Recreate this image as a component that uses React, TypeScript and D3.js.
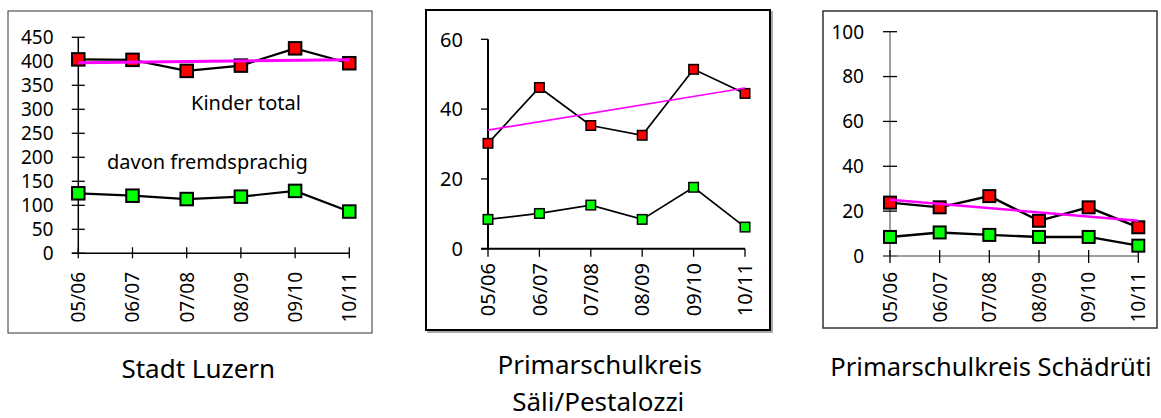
import * as d3 from "d3";

const years = ["05/06", "06/07", "07/08", "08/09", "09/10", "10/11"];

// Stadt Luzern
const luzernTotal = [404, 403, 380, 391, 427, 396];
const luzernFremd = [125, 120, 113, 118, 130, 87];
const luzernTicks = [0, 50, 100, 150, 200, 250, 300, 350, 400, 450];

// Primarschulkreis Säli/Pestalozzi
const saeliTotal = [30.2, 46.2, 35.3, 32.5, 51.4, 44.5];
const saeliFremd = [8.4, 10.1, 12.5, 8.4, 17.6, 6.2];
const saeliTicks = [0, 20, 40, 60];

// Primarschulkreis Schädrüti
const schaedTotal = [23.8, 21.7, 26.7, 15.7, 21.7, 12.8];
const schaedFremd = [8.5, 10.5, 9.4, 8.5, 8.5, 4.6];
const schaedTicks = [0, 20, 40, 60, 80, 100];

const FONT = "'Noto Sans', 'Open Sans', sans-serif";

interface PanelProps {
  box: [number, number, number, number];
  boxStroke: string;
  boxWidth: number;
  shadow?: boolean;
  xRange: [number, number];
  yRange: [number, number];
  ticks: number[];
  total: number[];
  fremd: number[];
  tickLeft: number;
  tickRight: number;
  xTickUp: number;
  xTickDown: number;
  labelX: number;
  labelTop: number;
  fontSize: number;
  axisColor: string;
  axisWidth: number;
  marker: number;
  markerStroke: number;
  lineWidth: number;
  trendWidth: number;
}

// least squares trend of the total series
function trend(values: number[]) {
  const n = values.length;
  const mx = d3.mean(d3.range(n)) as number;
  const my = d3.mean(values) as number;
  let sxy = 0;
  let sxx = 0;
  values.forEach((v, i) => {
    sxy += (i - mx) * (v - my);
    sxx += (i - mx) * (i - mx);
  });
  const b = sxy / sxx;
  return [my - b * mx, my + b * (n - 1 - mx)];
}

function Panel(p: PanelProps) {
  const x = d3.scalePoint<string>().domain(years).range(p.xRange);
  const y = d3
    .scaleLinear()
    .domain([0, p.ticks[p.ticks.length - 1]])
    .range(p.yRange);
  const line = d3
    .line<number>()
    .x((_, i) => x(years[i]) as number)
    .y((d) => y(d));
  const [t0, t1] = trend(p.total);
  const [bx, by, bw, bh] = p.box;
  const y0 = y(0);
  const xs = x(years[0]) as number;
  const xe = x(years[years.length - 1]) as number;

  const markers = (vals: number[], fill: string) =>
    vals.map((v, i) => (
      <rect
        key={fill + i}
        x={(x(years[i]) as number) - p.marker / 2}
        y={y(v) - p.marker / 2}
        width={p.marker}
        height={p.marker}
        fill={fill}
        stroke="#000"
        strokeWidth={p.markerStroke}
      />
    ));

  return (
    <g>
      {p.shadow && (
        <rect x={bx + 2} y={by + 2} width={bw} height={bh} fill="none" stroke="#aaa" strokeWidth={p.boxWidth} />
      )}
      <rect x={bx} y={by} width={bw} height={bh} fill="#fff" stroke={p.boxStroke} strokeWidth={p.boxWidth} />
      {/* y axis */}
      <line x1={xs} x2={xs} y1={y0} y2={y(p.ticks[p.ticks.length - 1])} stroke={p.axisColor} strokeWidth={p.axisWidth} />
      {p.ticks.map((t) => (
        <g key={t}>
          <line x1={xs - p.tickLeft} x2={xs + p.tickRight} y1={y(t)} y2={y(t)} stroke="#000" strokeWidth={1.3} />
          <text x={p.labelX} y={y(t)} dy="0.36em" textAnchor="end" fontSize={p.fontSize} fontFamily={FONT} fill="#000">
            {t}
          </text>
        </g>
      ))}
      {/* x axis */}
      <line x1={xs - p.tickLeft} x2={xe} y1={y0} y2={y0} stroke={p.axisColor} strokeWidth={p.axisWidth} />
      {years.map((yr) => {
        const cx = x(yr) as number;
        return (
          <g key={yr}>
            <line x1={cx} x2={cx} y1={y0 - p.xTickUp} y2={y0 + p.xTickDown} stroke="#000" strokeWidth={1.3} />
            <text
              transform={`translate(${cx},${p.labelTop}) rotate(-90)`}
              dy="0.36em"
              textAnchor="end"
              fontSize={p.fontSize}
              fontFamily={FONT}
              fill="#000"
            >
              {yr}
            </text>
          </g>
        );
      })}
      <path d={line(p.total) as string} fill="none" stroke="#000" strokeWidth={p.lineWidth} />
      <path d={line(p.fremd) as string} fill="none" stroke="#000" strokeWidth={p.lineWidth} />
      {markers(p.total, "#ff0000")}
      {markers(p.fremd, "#00ff00")}
      <line x1={xs} x2={xe} y1={y(t0)} y2={y(t1)} stroke="#ff00ff" strokeWidth={p.trendWidth} />
    </g>
  );
}

export default function App() {
  return (
    <svg
      width={1161}
      height={418}
      style={{ position: "absolute", left: 0, top: 0, background: "#fff" }}
    >
      <Panel
        box={[8, 11, 364, 322]}
        boxStroke="#333"
        boxWidth={1}
        xRange={[78.3, 349.3]}
        yRange={[253.3, 37.3]}
        ticks={luzernTicks}
        total={luzernTotal}
        fremd={luzernFremd}
        tickLeft={6.5}
        tickRight={6.5}
        xTickUp={6}
        xTickDown={5}
        labelX={53.5}
        labelTop={272}
        fontSize={19}
        axisColor="#000"
        axisWidth={1.5}
        marker={12.5}
        markerStroke={2}
        lineWidth={2.2}
        trendWidth={3}
      />
      <text x={191} y={110} fontSize={20} fontFamily={FONT}>Kinder total</text>
      <text x={107} y={169} fontSize={20} fontFamily={FONT}>davon fremdsprachig</text>

      <Panel
        box={[426, 10, 344, 320]}
        boxStroke="#000"
        boxWidth={2}
        shadow
        xRange={[488, 745]}
        yRange={[248.7, 39.3]}
        ticks={saeliTicks}
        total={saeliTotal}
        fremd={saeliFremd}
        tickLeft={7}
        tickRight={0}
        xTickUp={0}
        xTickDown={8}
        labelX={463}
        labelTop={263}
        fontSize={20}
        axisColor="#000"
        axisWidth={2}
        marker={9.5}
        markerStroke={1.5}
        lineWidth={1.7}
        trendWidth={1.7}
      />

      <Panel
        box={[823, 11, 334, 317]}
        boxStroke="#333"
        boxWidth={1.5}
        xRange={[890, 1138.3]}
        yRange={[256, 31.7]}
        ticks={schaedTicks}
        total={schaedTotal}
        fremd={schaedFremd}
        tickLeft={7}
        tickRight={7}
        xTickUp={6}
        xTickDown={7}
        labelX={864}
        labelTop={272}
        fontSize={19}
        axisColor="#808080"
        axisWidth={1.5}
        marker={12}
        markerStroke={2}
        lineWidth={2.4}
        trendWidth={2.5}
      />

      <text x={198.3} y={378} textAnchor="middle" fontSize={26} fontFamily={FONT}>Stadt Luzern</text>
      <text x={599.7} y={374} textAnchor="middle" fontSize={26} fontFamily={FONT}>Primarschulkreis</text>
      <text x={598.3} y={411} textAnchor="middle" fontSize={26} fontFamily={FONT}>Säli/Pestalozzi</text>
      <text x={991} y={376} textAnchor="middle" fontSize={25.5} fontFamily={FONT}>Primarschulkreis Schädrüti</text>
    </svg>
  );
}
